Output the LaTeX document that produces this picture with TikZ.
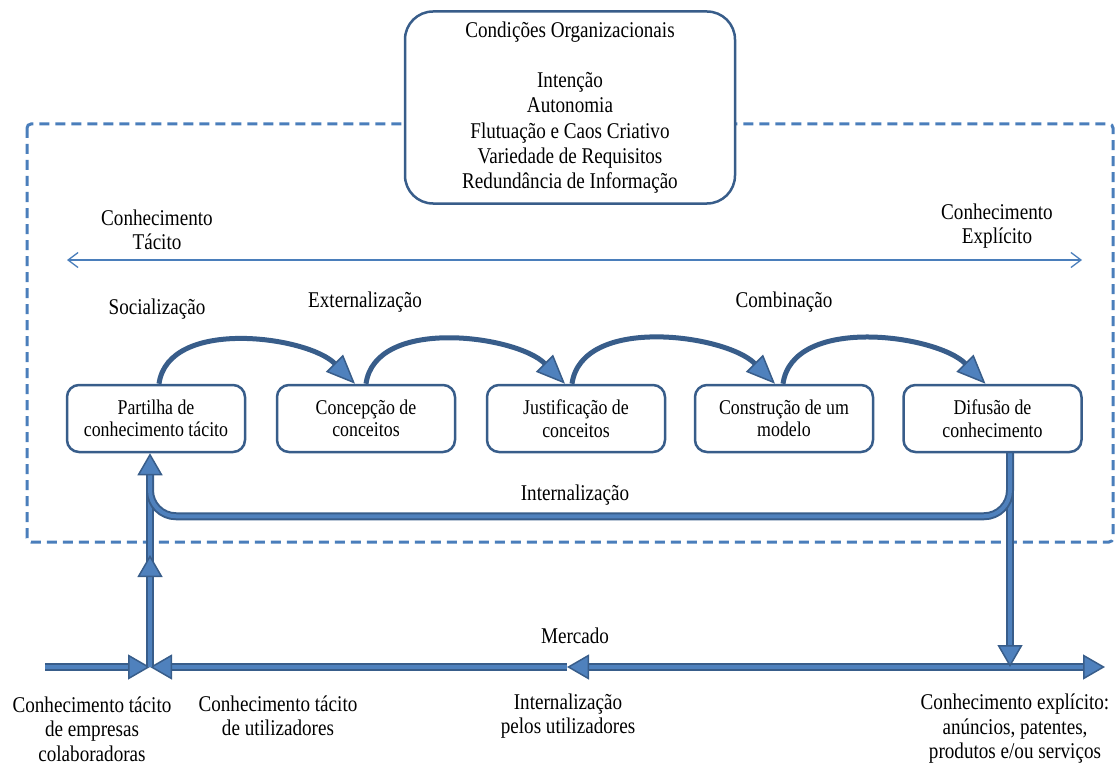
\documentclass[tikz,border=0pt]{standalone}
\usepackage{fontspec}
\setmainfont{Liberation Serif}[FakeStretch=0.85]
\usetikzlibrary{arrows.meta}
\definecolor{edge}{RGB}{56,93,138}
\definecolor{fillb}{RGB}{79,129,189}
\definecolor{dashb}{RGB}{74,126,187}

\begin{document}
\begin{tikzpicture}[x=1pt,y=-1pt,
  txt/.style={font=\fontsize{22.5pt}{24.5pt}\selectfont, align=center, inner sep=0pt},
  stage/.style={draw=edge, line width=2.5pt, rounded corners=12pt, fill=white,
    minimum width=178pt, minimum height=67pt, align=center, inner sep=0pt,
    font=\fontsize{21pt}{22.5pt}\selectfont},
  bighead/.style={-{Triangle[length=22pt,width=25pt,line width=1.5pt,fill=fillb]}},
  flow/.style={draw=edge, line width=2pt, double=fillb, double distance=4pt},
  loop/.style={draw=edge, line width=5pt, looseness=0.88,
    -{Triangle[length=29pt,width=24pt,line width=1.5pt,fill=fillb]}},
  axis/.style={draw=dashb, line width=1.3pt,
    {Straight Barb[length=10pt,width=15pt,line width=1.3pt]}-{Straight Barb[length=10pt,width=15pt,line width=1.3pt]}}
]
\useasboundingbox (0,0) rectangle (1117,765);

% dashed frame of the organisation
\draw[dashb, line width=3pt, dash pattern=on 10pt off 6pt, rounded corners=4pt]
  (27,124) rectangle (1113,542);

% organisational conditions
\node[draw=edge, line width=2.5pt, rounded corners=28pt, fill=white,
  minimum width=330pt, minimum height=192pt, align=center, inner sep=0pt,
  font=\fontsize{22.5pt}{25.2pt}\selectfont] (cond) at (570,107.5)
  {Condições Organizacionais\\[25pt]Intenção\\Autonomia\\Flutuação e Caos Criativo\\Variedade de Requisitos\\Redundância de Informação};

% tacit / explicit axis
\node[txt] (tac) at (157,230) {Conhecimento\\Tácito};
\node[txt] (exp) at (997,226) {Conhecimento\\Explícito};
\coordinate (axL) at (67,260);
\coordinate (axR) at (1082,260);
\draw[axis] (axL) -- (axR);

% phase labels
\node[txt] (soc) at (157,309) {Socialização};
\node[txt] (ext) at (365,302) {Externalização};
\node[txt] (comb) at (784,302) {Combinação};
\node[txt] (intl) at (575,495) {Internalização};

% process stages
\node[stage] (b1) at (156,418.5) {Partilha de\\conhecimento tácito};
\node[stage] (b2) at (366,418.5) {Concepção de\\conceitos};
\node[stage] (b3) at (576,418.5) {Justificação de\\conceitos};
\node[stage] (b4) at (784,418.5) {Construção de um\\modelo};
\node[stage] (b5) at (992.5,418.5) {Difusão de\\conhecimento};

% loops between stages
\draw[loop] ([xshift=3pt]b1.north) to[out=82,in=135] ([xshift=-11pt]b2.north);
\draw[loop] ([xshift=0pt]b2.north) to[out=82,in=135] ([xshift=-11pt]b3.north);
\draw[loop] ([xshift=-4pt]b3.north) to[out=82,in=135] ([xshift=-9pt]b4.north);
\draw[loop] ([xshift=-1pt]b4.north) to[out=82,in=135] ([xshift=-7pt]b5.north);

% market line
\node[txt] (merc) at (575,636) {Mercado};
\coordinate (mL) at (45,667);
\coordinate (mJ) at (150,667);
\coordinate (mM) at (567,667);
\coordinate (mR) at (1010,667);
\coordinate (mE) at (1105,667);
\coordinate (vM) at (150,555);

\draw[flow, bighead] (mL) -- (mJ);
\draw[flow, bighead] (mM) -- (mJ);
\draw[flow, bighead] (mR) -- (mM);
\draw[flow, bighead] (mR) -- (mE);

% explicit knowledge released to the market
\draw[flow, bighead] ([xshift=17.5pt]b5.south) -- (mR);

% tacit knowledge entering the organisation
\draw[flow] ([yshift=-20pt]vM) -- ([xshift=-6pt,yshift=-30pt]b1.south);
\draw[flow, bighead] (mJ) -- (vM);

% internalisation loop
\draw[flow, bighead, rounded corners=26pt]
  ([xshift=17.5pt]b5.south) -- ++(0,63) -| ([xshift=-6pt]b1.south);

% market labels
\node[txt] (l1) at (92,729) {Conhecimento tácito\\de empresas\\colaboradoras};
\node[txt] (l2) at (278,716) {Conhecimento tácito\\de utilizadores};
\node[txt] (l3) at (568,716) {Internalização\\pelos utilizadores};
\node[txt] (l4) at (1015,729) {Conhecimento explícito:\\anúncios, patentes,\\produtos e/ou serviços};
\end{tikzpicture}
\end{document}
